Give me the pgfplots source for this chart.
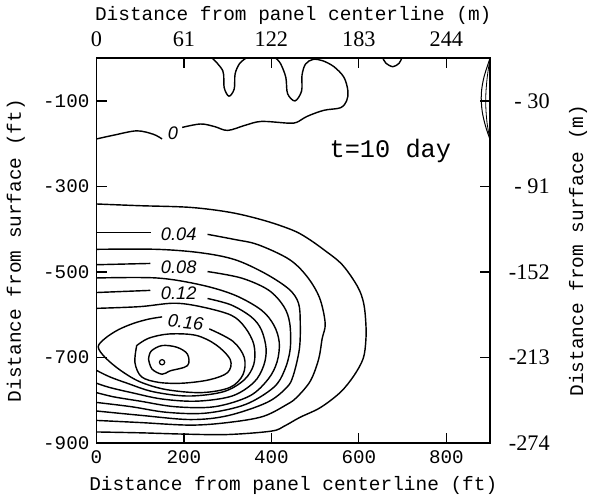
\documentclass[border=0pt]{standalone}
\usepackage{fontspec}
\setmainfont{Liberation Serif}
\newfontfamily\mono{Liberation Mono}
\newfontfamily\lsans{Liberation Sans}
\usepackage{pgfplots}
\pgfplotsset{compat=1.18}
\begin{document}
\begin{tikzpicture}
\pgfplotsset{
  cline/.style={black, line width=0.7pt, smooth, tension=0.55, mark=none},
}
\tikzset{clab/.style={font=\lsans\itshape\fontsize{9}{9}\selectfont, inner sep=0pt}}
% main axis: feet
\begin{axis}[
    scale only axis, width=194.5pt, height=190.25pt,
    xmin=0, xmax=900, ymin=-900, ymax=0,
    axis line style={line width=0.9pt},
    tick align=inside, major tick length=5pt,
    tick style={black, line width=0.6pt},
    xtick pos=bottom, ytick pos=left,
    xtick={0,200,400,600,800}, xticklabels={0,200,400,600,800},
    ytick={-900,-700,-500,-300,-100}, yticklabels={-900,-700,-500,-300,-100},
    ticklabel style={font=\mono\fontsize{9.5}{10}\selectfont},
    label style={font=\mono\fontsize{9.6}{10}\selectfont},
    xlabel={Distance from panel centerline (ft)},
    ylabel={Distance from surface (ft)},
    xlabel style={at={(axis description cs:0.5,-0.11)}, anchor=center},
    ylabel style={at={(axis description cs:-0.205,0.5)}, anchor=center},
]
% level 0, top
\addplot[cline] coordinates {(0,-189) (40,-180) (92,-170) (130,-178) (150,-189)};
\addplot[cline] coordinates {(196,-162) (238,-154) (270,-160) (300,-169) (340,-157) (377,-148)
  (439,-152) (458,-150) (482,-136) (520,-122) (558,-116) (572,-100) (575,-77) (566,-45)
  (543,-20) (517,-6) (495,-3) (478,-14) (470,-40) (469,-77) (454,-100) (437,-83)
  (433,-45) (421,-13) (410,0)};
\addplot[cline] coordinates {(265,0) (289,-30) (292,-69) (303,-89) (315,-72) (317,-37) (327,-13) (342,0)};
\addplot[cline] coordinates {(655,0) (662,-12) (678,-20) (692,-12) (698,0)};
\addplot[cline, line width=0.5pt] coordinates {(900,0) (886,-45) (880,-84) (882,-124) (890,-160) (900,-190)};
\addplot[cline, line width=0.4pt] coordinates {(900,0) (893,-50) (890,-100) (893,-150) (900,-190)};
% 0.02
\addplot[cline] coordinates {(0,-341) (99,-345) (215,-349) (308,-361) (385,-380) (448,-402)
  (481,-420) (520,-448) (562,-483) (597,-534) (611,-573) (616,-620) (616,-660) (610,-702)
  (589,-742) (558,-781) (512,-817) (465,-840) (430,-860) (400,-872) (300,-880) (200,-879)
  (100,-876) (0,-874)};
% 0.04
\addplot[cline] coordinates {(0,-408) (123,-408)};
\addplot[cline] coordinates {(254,-412) (316,-424) (369,-436) (440,-470) (481,-510) (510,-560)
  (523,-620) (516,-656) (508,-704) (489,-755) (458,-793) (435,-810) (380,-838) (300,-852)
  (215,-858) (100,-852) (0,-847)};
% 0.06
\addplot[cline] coordinates {(0,-447) (138,-447) (238,-455) (316,-471) (385,-503) (440,-540)
  (462,-573) (466,-620) (464,-680) (450,-742) (435,-770) (390,-805) (300,-836) (215,-845)
  (100,-835) (0,-825)};
% 0.08
\addplot[cline] coordinates {(0,-483) (123,-480)};
\addplot[cline] coordinates {(254,-499) (331,-514) (393,-542) (428,-580) (442,-620) (443,-680)
  (430,-730) (405,-770) (340,-810) (250,-830) (160,-828) (80,-815) (0,-805)};
% 0.10
\addplot[cline] coordinates {(0,-514) (138,-514) (238,-530) (316,-554) (377,-589) (406,-625)
  (418,-665) (413,-710) (393,-750) (350,-790) (270,-815) (180,-815) (100,-802) (40,-792) (0,-782)};
% 0.12
\addplot[cline] coordinates {(0,-548) (123,-543)};
\addplot[cline] coordinates {(254,-562) (308,-577) (354,-605) (377,-635) (388,-680) (382,-720)
  (360,-758) (310,-790) (230,-802) (150,-797) (80,-782) (30,-770) (0,-760)};
% 0.14
\addplot[cline] coordinates {(0,-585) (99,-581) (177,-573) (238,-581) (308,-601) (340,-630)
  (360,-670) (360,-715) (338,-752) (290,-780) (210,-790) (130,-780) (70,-760) (30,-745) (0,-730)};
% 0.16
\addplot[cline] coordinates {(150,-605) (120,-610) (85,-620) (50,-635) (20,-655) (4,-675) (20,-700)
  (55,-730) (100,-757) (160,-775) (240,-782) (305,-770) (335,-740) (338,-700) (312,-662) (258,-633)};
% 0.18
\addplot[cline] coordinates {(92,-672) (119,-655) (165,-645) (227,-648) (273,-670) (306,-705)
  (300,-735) (258,-752) (196,-760) (142,-758) (103,-745) (88,-712) (92,-672)};
% 0.20
\addplot[cline] coordinates {(119,-704) (125,-685) (150,-672) (184,-676) (208,-692) (208,-719)
  (169,-731) (150,-739) (127,-727) (119,-704)};
\addplot[only marks, mark=o, mark size=1.3pt, mark options={line width=0.6pt}] coordinates {(150,-711)};
% labels
\node[clab] at (axis cs:175,-175) {0};
\node[clab] at (axis cs:188,-412) {0.04};
\node[clab] at (axis cs:188,-490) {0.08};
\node[clab] at (axis cs:188,-550) {0.12};
\node[clab, rotate=-6] at (axis cs:204,-618) {0.16};
\node[font=\mono\fontsize{12.5}{13}\selectfont] at (axis cs:672,-217) {t=10 day};
\end{axis}
% secondary axis: metres
\begin{axis}[
    scale only axis, width=194.5pt, height=190.25pt,
    xmin=0, xmax=900, ymin=-900, ymax=0,
    axis x line*=top, axis y line*=right,
    axis line style={line width=0.9pt, -},
    tick align=inside, major tick length=5pt,
    tick style={black, line width=0.6pt},
    xtick={0,200,400,600,800}, xticklabels={0,61,122,183,244},
    ytick={-900,-700,-500,-300,-100}, yticklabels={-274,-213,-152,- 91,- 30},
    ticklabel style={font=\fontsize{11}{12}\selectfont},
    xticklabel style={yshift=2pt},
    yticklabel style={anchor=east, xshift=33pt},
    label style={font=\mono\fontsize{9.6}{10}\selectfont},
    xlabel={Distance from panel centerline (m)},
    ylabel={Distance from surface (m)},
    xlabel style={at={(axis description cs:0.5,1.11)}, anchor=center},
    ylabel style={at={(axis description cs:1.224,0.5)}, anchor=center},
]
\addplot[draw=none] coordinates {(0,0)};
\end{axis}
\end{tikzpicture}
\end{document}
